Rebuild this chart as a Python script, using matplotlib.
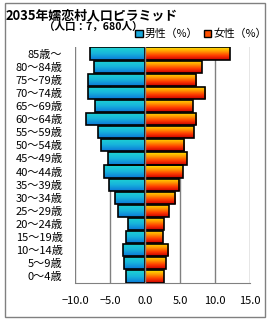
import matplotlib
matplotlib.use("Agg")
import matplotlib.pyplot as plt
import numpy as np
from matplotlib.patches import Patch, Rectangle
from matplotlib.colors import LinearSegmentedColormap

plt.rcParams['font.family'] = ['Noto Sans CJK JP', 'DejaVu Sans']

ages = ["0～4歳", "5～9歳", "10～14歳", "15～19歳", "20～24歳", "25～29歳",
        "30～34歳", "35～39歳", "40～44歳", "45～49歳", "50～54歳", "55～59歳",
        "60～64歳", "65～69歳", "70～74歳", "75～79歳", "80～84歳", "85歳～"]
male = [2.7, 3.0, 3.1, 2.7, 2.5, 3.8, 4.3, 5.1, 5.8, 5.3, 6.3, 6.7,
        8.5, 7.1, 8.2, 8.2, 7.3, 7.9]
female = [2.7, 3.0, 3.3, 2.5, 2.7, 3.4, 4.3, 4.9, 5.4, 6.0, 5.6, 7.0,
          7.3, 6.8, 8.6, 7.3, 8.1, 12.1]
xticks = [-10, -5, 0, 5, 10, 15]
xticklabels = ["−10.0", "−5.0", "0.0", "5.0", "10.0", "15.0"]

fig = plt.figure(figsize=(2.7, 3.2), dpi=100)
ax = fig.add_axes([75/270, 1-283/320, 175/270, 236/320])

y = np.arange(len(ages))
male_cmap = LinearSegmentedColormap.from_list("m", ["#1ed6d2", "#18b4dc", "#0a78d8"])
fem_cmap = LinearSegmentedColormap.from_list("f", ["#ffe600", "#ff9a00", "#ff3a00", "#c80000"])
grad = np.linspace(0, 1, 64).reshape(-1, 1)

for vals, cmap, sign in ((male, male_cmap, -1), (female, fem_cmap, 1)):
    bars = ax.barh(y, [sign * v for v in vals], height=0.93, facecolor='none',
                   edgecolor='black', linewidth=1.2, zorder=3)
    for b in bars:
        x0, y0 = b.get_x(), b.get_y()
        w, h = b.get_width(), b.get_height()
        im = ax.imshow(grad, cmap=cmap, aspect='auto',
                       extent=[x0, x0 + w, y0, y0 + h], origin='upper', zorder=2)
        im.set_clip_path(b)

ax.set_xlim(-10, 15)
ax.set_ylim(-0.5, len(ages) - 0.5)
ax.set_aspect('auto')
for xv in xticks:
    ax.axvline(xv, color='#808080', linewidth=1.0, zorder=4 if xv == 0 else 1)
ax.set_xticks(xticks)
ax.set_xticklabels(xticklabels, fontsize=8)
ax.set_yticks(y)
ax.set_yticklabels(ages, fontsize=8)
ax.tick_params(length=0, pad=9)
ax.tick_params(axis='x', pad=9)
for s in ['top', 'left', 'right']:
    ax.spines[s].set_visible(False)
ax.spines['bottom'].set_color('#808080')

fig.patches.append(Rectangle((5/270, 3/320), 260/270, 314/320, transform=fig.transFigure,
                             fill=False, edgecolor='#808080', linewidth=1.0))

fig.text(6/270, 1-15/320, "2035年嬬恋村人口ピラミッド", fontsize=9.3, fontweight='bold',
         va='center', ha='left')
fig.text(44/270, 1-27/320, "（人口：7，680人）", fontsize=7.6, fontweight='bold',
         va='center', ha='left')

handles = [Patch(facecolor='#18a8dc', edgecolor='black', label='男性（%）'),
           Patch(facecolor='#ff5000', edgecolor='black', label='女性（%）')]
fig.legend(handles=handles, loc='center', bbox_to_anchor=(201/270, 1-34/320), ncol=2,
           frameon=False, fontsize=7.8, handlelength=0.7, handleheight=0.7,
           handletextpad=0.2, columnspacing=0.5, borderpad=0)

fig.savefig("out.png", dpi=100)
